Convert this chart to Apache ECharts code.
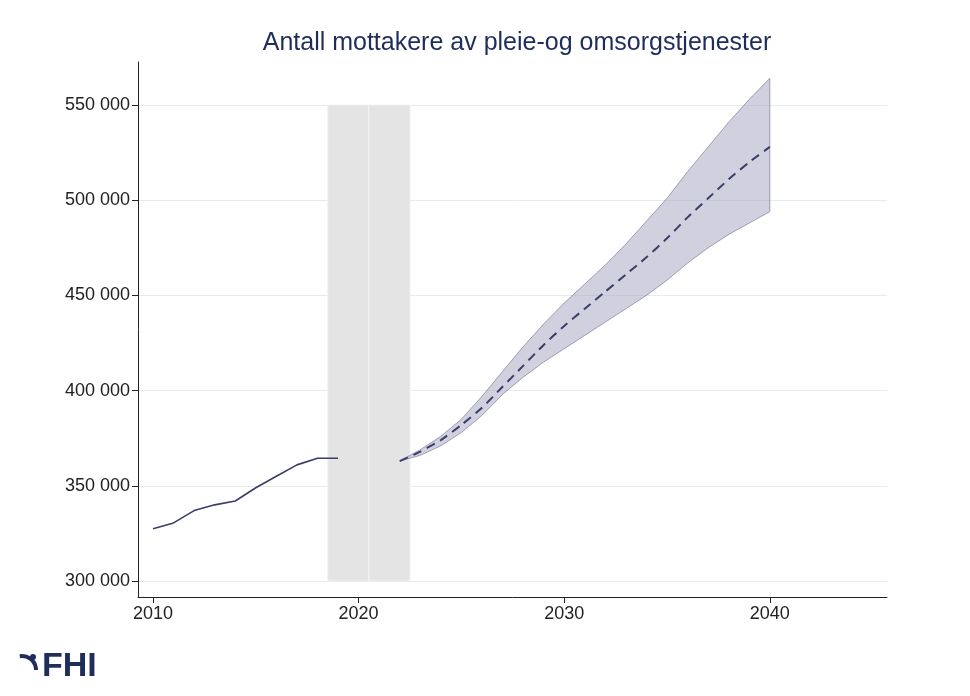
<!DOCTYPE html>
<html><head><meta charset="utf-8">
<script src="https://cdn.jsdelivr.net/npm/echarts@6/dist/echarts.min.js"></script>
<style>html,body{margin:0;background:#fff}#c{width:970px;height:696px}</style></head>
<body><div id="c"></div>
<script>
const histYears=[2010,2011,2012,2013,2014,2015,2016,2017,2018,2019];
const histVals=[327500,330500,337000,340000,342000,349000,355000,361000,364500,364500];
const projYears=[2022,2023,2024,2025,2026,2027,2028,2029,2030,2031,2032,2033,2034,2035,2036,2037,2038,2039,2040];
const projMid=[363000,368000,374000,382000,391000,402000,413000,424000,434000,443000,452000,461000,470000,480000,491000,501000,511000,520000,528000];
const projLow=[363000,366000,371000,378000,387000,398000,407000,415000,422000,429000,436000,443000,450000,458000,467000,475000,482000,488000,494000];
const projHigh=[363000,369000,376000,385000,397000,410000,423000,435000,446000,456000,466000,477000,489000,501000,515000,528000,541000,553000,564000];
const bandPeriods=[[2018.5,2020.5],[2020.5,2022.5]];
const yTicks=[300000,350000,400000,450000,500000,550000];
const chart=echarts.init(document.getElementById('c'));
const poly=[];
projYears.forEach((y,i)=>poly.push([y,projHigh[i]]));
for(let i=projYears.length-1;i>=0;i--)poly.push([projYears[i],projLow[i]]);
chart.setOption({
 animation:false,
 title:{text:'Antall mottakere av pleie-og omsorgstjenester',left:512,top:26,textAlign:'center',textStyle:{color:'#1f2d5a',fontSize:25,fontWeight:'normal',fontFamily:'Liberation Sans'}},
 grid:{left:138,right:83,top:62,bottom:99},
 xAxis:{type:'value',min:2009.27,max:2045.7,interval:10,
  axisLine:{lineStyle:{color:'#222'}},axisTick:{show:true,length:6,lineStyle:{color:'#222'},customValues:[2010,2020,2030,2040]},
  axisLabel:{fontSize:18,color:'#222',fontFamily:'Liberation Sans',customValues:[2010,2020,2030,2040],formatter:v=>String(v)},
  splitLine:{show:false}},
 yAxis:{type:'value',min:291600,max:572600,
  axisLine:{show:true,lineStyle:{color:'#222'}},axisTick:{show:true,length:6,lineStyle:{color:'#222'},customValues:yTicks},
  axisLabel:{fontSize:18,color:'#222',fontFamily:'Liberation Sans',customValues:yTicks,formatter:v=>String(v).replace(/(\d{3})$/,' $1')},
  splitLine:{show:true,lineStyle:{color:'#e3eded'}}},
 series:[
  {type:'custom',silent:true,z:1,data:[0],renderItem:(p,api)=>({type:'polygon',shape:{points:poly.map(d=>api.coord(d))},style:{fill:'rgba(170,170,195,0.55)',stroke:'rgba(110,110,140,0.6)',lineWidth:1}})},
  {type:'line',data:histYears.map((y,i)=>[y,histVals[i]]),symbol:'none',lineStyle:{color:'#3a3d6a',width:1.6},z:3,
   markArea:{silent:true,itemStyle:{color:'#e4e4e4',borderColor:'#f2f2f2',borderWidth:1},data:bandPeriods.map(b=>[{coord:[b[0],300000]},{coord:[b[1],550000]}])}},
  {type:'line',data:projYears.map((y,i)=>[y,projMid[i]]),symbol:'none',smooth:0.2,lineStyle:{color:'#3a3d6a',width:2,type:[9,6]},z:3}
 ],
 graphic:[
  {type:'text',left:42,top:650,style:{text:'FHI',fontSize:34,fontWeight:'bold',fill:'#1f2d5a',fontFamily:'Liberation Sans'}},
  {type:'circle',shape:{cx:33,cy:657,r:3},style:{fill:'#1f2d5a'}},
  {type:'arc',shape:{cx:22,cy:670,r:14,startAngle:-Math.PI*0.55,endAngle:0},style:{stroke:'#1f2d5a',lineWidth:4,fill:null}}
 ]
});
</script></body></html>
